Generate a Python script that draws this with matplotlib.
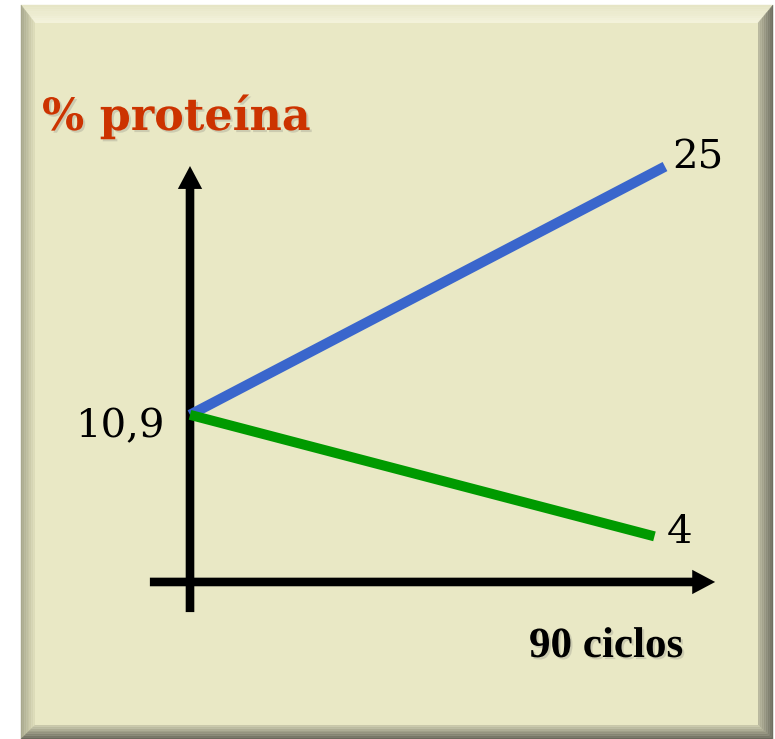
import numpy as np
import matplotlib.pyplot as plt
import matplotlib.patheffects as pe
from matplotlib.patches import Polygon, Rectangle
from matplotlib.colors import to_rgb

# data (schematic chart: protein % after 90 cycles)
cycles_up = [0, 90]
protein_up = [10.9, 25]
cycles_down = [0, 88]
protein_down = [10.9, 4]
start_label = "10,9"
end_labels = ["25", "4"]
y_title = "% proteína"
x_title = "90 ciclos"

W, H = 775, 739
fig = plt.figure(figsize=(W / 100, H / 100), dpi=100)
fig.patch.set_facecolor("white")

# background frame (pixel coordinates, y downwards)
bg = fig.add_axes([0, 0, 1, 1])
bg.set_xlim(0, W)
bg.set_ylim(H, 0)
bg.axis("off")

L, T, R, B = 21, 5, 773, 739
bw_l, bw_t, bw_r, bw_b = 14, 18, 15, 14
n = 8


def lerp(c1, c2, t):
    a, b = np.array(to_rgb(c1)), np.array(to_rgb(c2))
    return tuple(a + (b - a) * t)


for k in range(n):
    f0, f1 = k / n, (k + 1) / n
    o = (L + bw_l * f0, T + bw_t * f0, R - bw_r * f0, B - bw_b * f0)
    i = (L + bw_l * f1, T + bw_t * f1, R - bw_r * f1, B - bw_b * f1)
    t = k / (n - 1)
    sides = [
        ([(o[0], o[1]), (o[2], o[1]), (i[2], i[1]), (i[0], i[1])], lerp("#E6E5C6", "#F3F2DA", t)),
        ([(o[0], o[1]), (i[0], i[1]), (i[0], i[3]), (o[0], o[3])], lerp("#A8A88C", "#DCDBB8", t)),
        ([(o[2], o[1]), (o[2], o[3]), (i[2], i[3]), (i[2], i[1])], lerp("#6E6E60", "#B9B89E", t)),
        ([(o[0], o[3]), (o[2], o[3]), (i[2], i[3]), (i[0], i[3])], lerp("#6A6A5C", "#C9C8AA", t)),
    ]
    for pts, col in sides:
        bg.add_patch(Polygon(pts, closed=True, facecolor=col, edgecolor=col, lw=0.3))

bg.add_patch(Rectangle((L + bw_l, T + bw_t), (R - bw_r) - (L + bw_l), (B - bw_b) - (T + bw_t),
                       facecolor="#E9E8C5", edgecolor="none"))

shadow = [pe.withSimplePatchShadow(offset=(1.5, -1.5), shadow_rgbFace="#666666", alpha=0.22)]
bg.text(42, 130, y_title, fontsize=32, fontweight="bold", family="DejaVu Serif",
        color="#CC3300", va="baseline", ha="left", path_effects=shadow)
bg.text(529, 657, x_title, fontsize=31, fontweight="bold", family="Liberation Serif",
        color="black", va="baseline", ha="left", path_effects=shadow)

# data axes, scaled so the schematic lands where it does in the picture
ax = fig.add_axes([0, 0, 1, 1], facecolor="none")
px_per_x = 475 / 90
px_per_y = 17.61
x0_px, y0_px = 190, 606.8
ax.set_xlim(-x0_px / px_per_x, (W - x0_px) / px_per_x)
ax.set_ylim(-(H - y0_px) / px_per_y, y0_px / px_per_y)
ax.axis("off")

arrow = dict(arrowstyle="simple,head_length=16.5,head_width=17.5,tail_width=6.2",
             mutation_scale=1, shrinkA=0, shrinkB=0, fc="black", ec="none", lw=0)
ax.annotate("", xy=(0, 25.03), xytext=(0, -0.3), arrowprops=arrow)
ax.annotate("", xy=(99.5, 1.41), xytext=(-7.6, 1.41), arrowprops=arrow)

ax.plot(cycles_up, protein_up, color="#3A66CC", lw=7.4, solid_capstyle="butt", zorder=3)
ax.plot(cycles_down, protein_down, color="#009A00", lw=7.2, solid_capstyle="butt", zorder=3)

num_font = dict(fontsize=29, family="DejaVu Serif", color="black")
ax.annotate(start_label, xy=(cycles_up[0], protein_up[0]), xytext=(-18, -8.5),
            textcoords="offset points", ha="right", va="center", **num_font)
ax.annotate(end_labels[0], xy=(cycles_up[-1], protein_up[-1]), xytext=(5, 6),
            textcoords="offset points", ha="left", va="center", **num_font)
ax.annotate(end_labels[1], xy=(cycles_down[-1], protein_down[-1]), xytext=(9, 2.5),
            textcoords="offset points", ha="left", va="center", **num_font)

fig.savefig("out.png", dpi=100, facecolor=fig.get_facecolor())
